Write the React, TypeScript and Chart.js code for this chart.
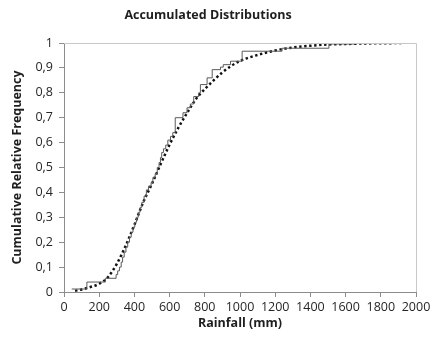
import React, { useEffect, useRef } from "react";
import { Chart, registerables } from "chart.js";

Chart.register(...registerables);

const titleText = "Accumulated Distributions";
const xTitle = "Rainfall (mm)";
const yTitle = "Cumulative Relative Frequency";

// Empirical (step) distribution: rainfall (mm) and cumulative frequency
const empX = [44, 130, 235, 296, 305, 315, 325, 333, 342, 352, 362, 372, 382, 392, 402, 412, 422, 432, 442, 455, 468, 480, 495, 505, 518, 530, 540, 548, 555, 565, 578, 590, 605, 618, 632, 676, 699, 718, 737, 765, 775, 813, 842, 889, 905, 946, 1012, 1239, 1505, 1650];
const empY = [0.012, 0.04, 0.055, 0.07, 0.085, 0.1, 0.12, 0.14, 0.16, 0.18, 0.2, 0.22, 0.24, 0.26, 0.28, 0.3, 0.32, 0.34, 0.36, 0.385, 0.41, 0.425, 0.44, 0.46, 0.475, 0.5, 0.52, 0.54, 0.56, 0.575, 0.59, 0.61, 0.625, 0.64, 0.7, 0.72, 0.74, 0.755, 0.785, 0.8, 0.833, 0.86, 0.893, 0.903, 0.913, 0.927, 0.967, 0.979, 0.996, 0.996];

// Fitted (dotted) distribution
const fitX = [63, 100, 150, 200, 250, 300, 350, 400, 450, 500, 550, 600, 650, 700, 750, 800, 850, 900, 950, 1000, 1100, 1200, 1300, 1400, 1500, 1600, 1700, 1800, 1930];
const fitY = [0.005, 0.01, 0.02, 0.033, 0.06, 0.113, 0.185, 0.27, 0.36, 0.435, 0.515, 0.592, 0.66, 0.72, 0.775, 0.815, 0.85, 0.882, 0.908, 0.928, 0.952, 0.97, 0.982, 0.989, 0.994, 0.996, 0.998, 0.999, 1.0];

const xMin = 0;
const xMax = 2000;
const xStep = 200;
const yMin = 0;
const yMax = 1;
const yStep = 0.1;

const TICK_FONT = "'Open Sans', Lato, sans-serif";
const TITLE_FONT = "'Open Sans', Lato, sans-serif";

const frame = {
  id: "frame",
  afterDatasetsDraw(chart: any) {
    const { ctx, chartArea } = chart;
    ctx.save();
    ctx.strokeStyle = "#c8c8c8";
    ctx.lineWidth = 1;
    ctx.beginPath();
    ctx.moveTo(chartArea.left, chartArea.top + 0.5);
    ctx.lineTo(chartArea.right + 0.5, chartArea.top + 0.5);
    ctx.lineTo(chartArea.right + 0.5, chartArea.bottom);
    ctx.stroke();
    ctx.restore();
  },
};

export default function App() {
  const ref = useRef<HTMLCanvasElement>(null);
  useEffect(() => {
    document.body.style.margin = "0";
    const emp = empX.map((x, i) => ({ x, y: empY[i] }));
    const fit = fitX.map((x, i) => ({ x, y: fitY[i] }));
    const chart = new Chart(ref.current as HTMLCanvasElement, {
      type: "line",
      data: {
        datasets: [
          {
            label: "Empirical",
            data: emp,
            stepped: true,
            borderColor: "#5a5a5a",
            borderWidth: 1,
            pointRadius: 0,
            fill: false,
          },
          {
            label: "Fitted",
            data: fit,
            borderColor: "#111111",
            borderWidth: 2.5,
            borderDash: [2.4, 2.6],
            cubicInterpolationMode: "monotone",
            pointRadius: 0,
            fill: false,
          },
        ],
      },
      options: {
        responsive: false,
        animation: false,
        layout: { padding: { left: 0, right: 19, top: 0, bottom: 0 } },
        plugins: {
          legend: { display: false },
          tooltip: { enabled: false },
          title: {
            display: true,
            text: titleText,
            color: "#1e1e1e",
            font: { family: TITLE_FONT, size: 12.5, weight: "bold", lineHeight: 1.2 },
            padding: { top: 7.5, bottom: 20.5 },
          },
        },
        scales: {
          x: {
            type: "linear",
            min: xMin,
            max: xMax,
            afterFit: (s: any) => {
              s.height = 47;
            },
            ticks: {
              stepSize: xStep,
              color: "#262626",
              font: { family: TICK_FONT, size: 12.5 },
              padding: 3,
              maxRotation: 0,
              autoSkip: false,
              callback: (v: any) => String(Math.round(Number(v))),
            },
            grid: {
              drawOnChartArea: false,
              drawTicks: true,
              tickLength: 5,
              color: "#8c8c8c",
            },
            border: { display: true, color: "#8c8c8c" },
            title: {
              display: true,
              text: xTitle,
              color: "#1e1e1e",
              font: { family: TITLE_FONT, size: 12.5, weight: "bold", lineHeight: 1.2 },
              padding: { top: 0, bottom: 8 },
            },
          },
          y: {
            type: "linear",
            min: yMin,
            max: yMax,
            afterFit: (s: any) => {
              s.width = 64;
            },
            ticks: {
              stepSize: yStep,
              color: "#262626",
              font: { family: TICK_FONT, size: 12.5 },
              padding: 6,
              callback: (v: any) => String(Math.round(Number(v) * 10) / 10).replace(".", ","),
            },
            grid: {
              drawOnChartArea: false,
              drawTicks: true,
              tickLength: 5,
              color: "#8c8c8c",
            },
            border: { display: true, color: "#8c8c8c" },
            title: {
              display: true,
              text: yTitle,
              color: "#1e1e1e",
              font: { family: TITLE_FONT, size: 12.5, weight: "bold", lineHeight: 1.2 },
              padding: { top: 10, bottom: 0 },
            },
          },
        },
      },
      plugins: [frame],
    });
    return () => chart.destroy();
  }, []);
  return <canvas ref={ref} width={435} height={339} />;
}
